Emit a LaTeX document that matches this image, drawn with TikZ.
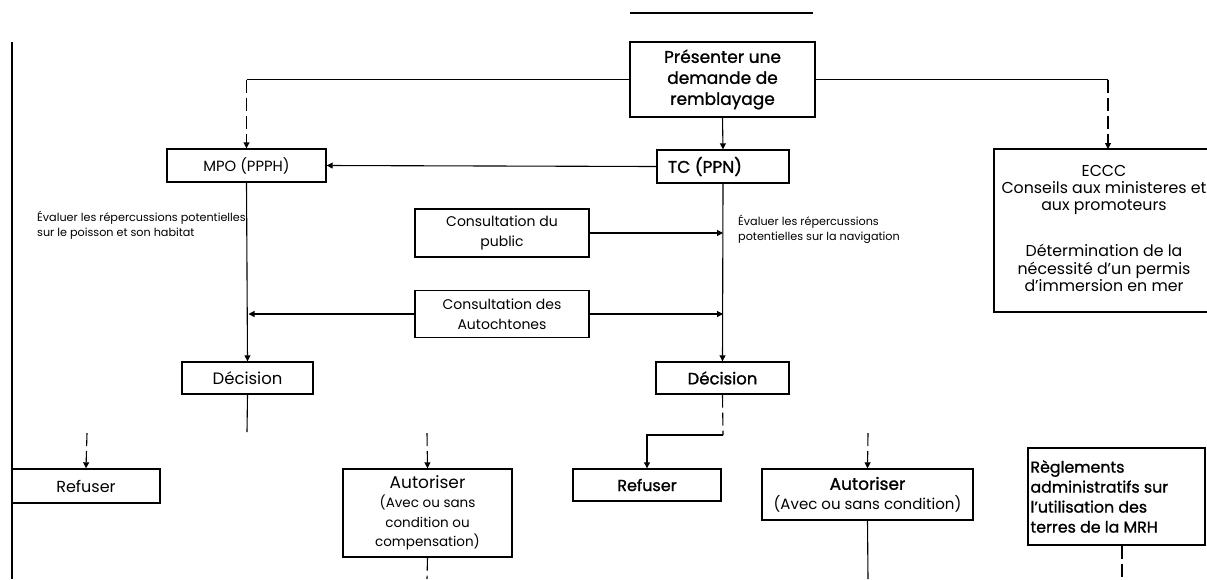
\documentclass[tikz,border=0pt]{standalone}
\usepackage{fontspec}
\setmainfont{Poppins}
\newfontfamily\thickfont[FakeBold=1.2]{Poppins}
\usetikzlibrary{arrows.meta}

\tikzset{
  box/.style={draw, line width=1.4pt, inner sep=0pt, align=center},
  link/.style={line width=1.1pt},
  arr/.style={link, -{Triangle[length=6pt,width=6pt]}},
  dashlink/.style={link, dash pattern=on 13pt off 5pt},
  note/.style={font=\fontsize{11.2}{15}\selectfont, align=left, inner sep=0pt}
}
\newcommand{\bigline}[1]{{\fontsize{17}{19.5}\selectfont #1}}

\begin{document}
\begin{tikzpicture}[x=1pt, y=-1pt, font=\fontsize{15}{19.5}\selectfont]
				\useasboundingbox (0,0) rectangle (1207,579);
				
				\draw[link] (630,13) -- (813,13);
				\draw[line width=1.6pt] (12,42) -- (12,579);
				
				\node[box, minimum width=185pt, minimum height=75pt, font=\thickfont\fontsize{17}{21}\selectfont] (pres) at (722.5,79.5) {Présenter une\\demande de\\remblayage};
				\node[box, minimum width=159pt, minimum height=33pt, font=\fontsize{14.8}{19}\selectfont] (mpo) at (246.5,165.5) {MPO (PPPH)};
				\node[box, minimum width=132pt, minimum height=33pt, font=\thickfont\fontsize{17}{19.5}\selectfont] (tc) at (723,166.5) {\makebox[110pt][l]{TC (PPN)}};
				\node[box, minimum width=216pt, minimum height=163pt, font=\fontsize{15.8}{17}\selectfont] (eccc) at (1102,230.5) {\hspace*{4pt}\begin{tabular}{@{}c@{}}ECCC\\Conseils aux ministeres et\\aux promoteurs\\[29pt]Détermination de la\\nécessité d’un permis\\d’immersion en mer\end{tabular}};
				
				\node[note, anchor=north west] (evall) at (37,211) {Évaluer les répercussions potentielles\\sur le poisson et son habitat};
				\node[note, anchor=north west] (evalr) at (738,215) {Évaluer les répercussions\\potentielles sur la navigation};
				
				\node[box, minimum width=174pt, minimum height=48pt, font=\fontsize{14}{19.5}\selectfont] (pub) at (502,233) {Consultation du\\public};
				\node[box, minimum width=174pt, minimum height=47pt, font=\fontsize{14}{19.5}\selectfont] (auto) at (502,314) {Consultation des\\Autochtones};
				
				\node[box, minimum width=131pt, minimum height=32pt, font=\fontsize{16.5}{19.5}\selectfont] (dec1) at (247.5,378) {Décision};
				\node[box, minimum width=133pt, minimum height=32pt, font=\thickfont\fontsize{16.5}{19.5}\selectfont] (dec2) at (722.5,378) {Décision};
				
				\node[box, minimum width=148pt, minimum height=34pt, font=\fontsize{16}{19.5}\selectfont] (ref1) at (86,486) {Refuser};
				\node[box, minimum width=169pt, minimum height=88pt, font=\fontsize{13.5}{19.5}\selectfont] (aut1) at (427.5,513) {\bigline{Autoriser}\\(Avec ou sans\\condition ou\\compensation)};
				\node[box, minimum width=148pt, minimum height=32pt, font=\thickfont\fontsize{16}{19.5}\selectfont] (ref2) at (647,485) {Refuser};
				\node[box, minimum width=211pt, minimum height=51pt] (aut2) at (867.5,494.5) {\bigline{\thickfont Autoriser}\\(Avec ou sans condition)};
				\node[box, minimum width=177pt, minimum height=97pt, align=left, font=\thickfont\fontsize{15.8}{20}\selectfont] (regl) at (1116.5,496.5) {\makebox[172pt][l]{Règlements}\\administratifs sur\\l’utilisation des\\terres de la MRH};
				
				\coordinate (dec1end) at (247,432);
				\coordinate (ref1top) at (87,433);
				\coordinate (aut1top) at (427,433);
				\coordinate (aut2top) at (868,433);
				\coordinate (dec2knee) at (723,435);
				\coordinate (aut1end) at (427,579);
				\coordinate (aut2end) at (868,579);
				\coordinate (reglend) at (1122,579);
				\coordinate (ecccin) at (1108,149);
				
				\draw[link] (pres.west) -- (pres.west -| mpo.north);
				\draw[dashlink, arr] (pres.west -| mpo.north) -- (mpo.north);
				\draw[link] (pres.east) -- (pres.east -| ecccin);
				\draw[dashlink, arr] (pres.east -| ecccin) -- (ecccin);
				\draw[arr] (pres.south) -- (tc.north);
				\draw[arr] (tc.west) -- (mpo.east);
				
				\draw[arr] (mpo.south) -- (dec1.north);
				\draw[arr] (tc.south) -- (dec2.north);
				\draw[arr] (pub.east) -- (pub.east -| tc.south);
				\draw[arr] (auto.east) -- (auto.east -| tc.south);
				\draw[arr] (auto.west) -- ([xshift=2pt]auto.west -| mpo.south);
				
				\draw[link] (dec1.south) -- (dec1end);
				\draw[dashlink, arr] (ref1top) -- (ref1.north);
				\draw[dashlink, arr] (aut1top) -- (aut1.north);
				\draw[dashlink] (dec2.south) -- (dec2knee);
				\draw[arr] (dec2knee) -| (ref2.north);
				\draw[dashlink, arr] (aut2top) -- (aut2.north);
				
				\draw[dashlink] (aut1.south) -- (aut1end);
				\draw[link] (aut2.south) -- (aut2end);
				\draw[dashlink] (regl.south -| reglend) -- (reglend);
			\end{tikzpicture}
\end{document}
